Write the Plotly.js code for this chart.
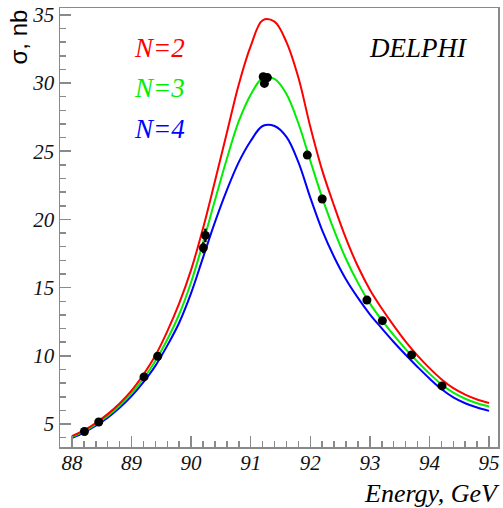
<!DOCTYPE html>
<html><head><meta charset="utf-8">
<script src="https://cdn.plot.ly/plotly-3.0.1.min.js"></script>
<style>html,body{margin:0;padding:0;background:#fff}#chart{width:503px;height:508px}</style>
</head><body><div id="chart"></div>
<script>
// Energy grid (GeV) at which the three model curves were read
const energyGrid = [88.0, 88.2, 88.4, 88.6, 88.8, 89.0, 89.2, 89.4, 89.6, 89.8, 90.0, 90.2, 90.4, 90.6, 90.8, 91.0, 91.2, 91.4, 91.6, 91.8, 92.0, 92.2, 92.4, 92.6, 92.8, 93.0, 93.2, 93.4, 93.6, 93.8, 94.0, 94.2, 94.4, 94.6, 94.8, 95.0];
// Cross section curves (nb) for N = 2, 3, 4 neutrino generations
const sigmaN2 = [4.11, 4.53, 5.08, 5.73, 6.51, 7.45, 8.63, 10.02, 11.8, 13.85, 16.3, 19.35, 22.8, 26.35, 29.9, 32.7, 34.6, 34.5, 33.0, 30.4, 26.8, 23.6, 21.0, 18.6, 16.55, 14.85, 13.47, 12.22, 11.05, 10.02, 9.1, 8.29, 7.63, 7.16, 6.8, 6.54];
const sigmaN3 = [4.05, 4.46, 4.98, 5.60, 6.35, 7.25, 8.33, 9.62, 11.2, 13.05, 15.4, 18.3, 21.4, 24.45, 27.2, 29.15, 30.35, 30.3, 29.2, 27.05, 24.3, 21.6, 19.2, 17.1, 15.35, 13.85, 12.62, 11.52, 10.5, 9.57, 8.7, 7.92, 7.3, 6.86, 6.53, 6.29];
const sigmaN4 = [3.98, 4.38, 4.88, 5.47, 6.19, 7.05, 8.08, 9.27, 10.75, 12.43, 14.6, 17.2, 19.8, 22.15, 24.2, 25.75, 26.85, 26.85, 26.05, 24.2, 21.6, 19.2, 17.25, 15.6, 14.25, 13.05, 12.02, 11.02, 10.08, 9.19, 8.34, 7.57, 6.96, 6.53, 6.21, 5.97];
// DELPHI measurements
const dataEnergy = [88.21, 88.45, 89.21, 89.44, 90.205, 90.24, 91.21, 91.23, 91.28, 91.95, 92.20, 92.95, 93.21, 93.70, 94.21];
const dataSigma  = [4.46, 5.15, 8.46, 9.97, 17.92, 18.83, 30.46, 29.97, 30.4, 24.72, 21.5, 14.09, 12.58, 10.07, 7.80];
const dataError  = [0.1, 0.1, 0.15, 0.15, 0.4, 0.5, 0.2, 0.2, 0.2, 0.2, 0.2, 0.15, 0.15, 0.1, 0.1];
const curveLabels = ['N=2', 'N=3', 'N=4'];
const curveColors = ['#ff0000', '#00ee00', '#0000ff'];

const serif = 'Liberation Serif';
const axisGrey = '#8a8a8a';

const curves = [sigmaN4, sigmaN3, sigmaN2];
const colorsOrdered = [curveColors[2], curveColors[1], curveColors[0]];
const traces = curves.map((ys, i) => ({
  x: energyGrid, y: ys, type: 'scatter', mode: 'lines',
  line: {color: colorsOrdered[i], width: 2, shape: 'spline', smoothing: 1},
  hoverinfo: 'skip', showlegend: false
}));
traces.push({
  x: dataEnergy, y: dataSigma, type: 'scatter', mode: 'markers',
  marker: {color: '#000', size: 9},
  error_y: {type: 'data', array: dataError, color: '#000', thickness: 2.5, width: 0},
  showlegend: false
});

const labelY = [32.6, 29.6, 26.6];
const annotations = curveLabels.map((t, i) => ({
  text: t, x: 89.0, y: labelY[i], xref: 'x', yref: 'y', xanchor: 'left', yanchor: 'middle',
  showarrow: false, font: {family: serif, size: 27, color: curveColors[i], style: 'italic'}
}));
annotations.push({
  text: 'DELPHI', x: 93.81, y: 32.6, xref: 'x', yref: 'y', xanchor: 'center', yanchor: 'middle',
  showarrow: false, font: {family: serif, size: 27, color: '#000', style: 'italic'}
});
annotations.push({
  text: 'Energy, GeV', x: 1, y: 0, xref: 'paper', yref: 'paper', xanchor: 'right', yanchor: 'top',
  yshift: -30, xshift: 4, showarrow: false,
  font: {family: serif, size: 26, color: '#000', style: 'italic'}
});
annotations.push({
  text: 'σ, nb', x: 0, y: 1, xref: 'paper', yref: 'paper', xanchor: 'center', yanchor: 'top',
  xshift: -42, yshift: 0, textangle: -90, showarrow: false,
  font: {family: 'Liberation Sans', size: 24, color: '#000'}
});

const layout = {
  width: 503, height: 508,
  margin: {l: 60, r: 5, t: 8, b: 61},
  paper_bgcolor: '#fff', plot_bgcolor: '#fff',
  showlegend: false,
  xaxis: {
    range: [87.8, 95.15], showgrid: false, zeroline: false,
    showline: true, linecolor: axisGrey, linewidth: 1.5, mirror: true,
    tickmode: 'linear', tick0: 88, dtick: 1, ticks: 'inside', ticklen: 11, tickwidth: 1.5, tickcolor: axisGrey,
    minor: {dtick: 0.2, tick0: 88, ticks: 'inside', ticklen: 6, tickwidth: 1.5, tickcolor: axisGrey, showgrid: false},
    ticklabelstandoff: -4,
    tickfont: {family: serif, size: 21, color: '#111', style: 'italic'}
  },
  yaxis: {
    range: [3.32, 35.5], showgrid: false, zeroline: false,
    showline: true, linecolor: axisGrey, linewidth: 1.5, mirror: true,
    tickmode: 'linear', tick0: 5, dtick: 5, ticks: 'inside', ticklen: 11, tickwidth: 1.5, tickcolor: axisGrey,
    minor: {dtick: 1, tick0: 5, ticks: 'inside', ticklen: 6, tickwidth: 1.5, tickcolor: axisGrey, showgrid: false},
    tickfont: {family: serif, size: 21, color: '#111', style: 'italic'}
  },
  annotations: annotations
};

Plotly.newPlot('chart', traces, layout, {displayModeBar: false, staticPlot: true});
</script>
</body></html>
